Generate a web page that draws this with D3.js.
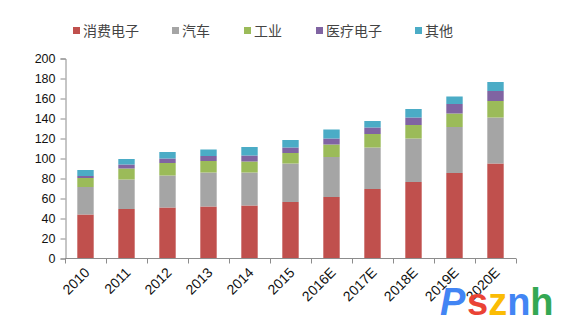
<!DOCTYPE html>
<html><head><meta charset="utf-8">
<script src="https://cdn.jsdelivr.net/npm/d3@7"></script>
<style>body{margin:0;background:#fff;}svg{display:block;}</style>
</head><body>
<svg id="c" width="569" height="330"></svg>
<script>
const categories = ["2010","2011","2012","2013","2014","2015","2016E","2017E","2018E","2019E","2020E"];
const seriesNames = ["消费电子","汽车","工业","医疗电子","其他"];
const consumer = [44, 49.5, 51, 52, 53, 56.5, 61.5, 69.5, 76.5, 85.5, 95];
const auto     = [27.5, 29.5, 32, 34, 33, 38.5, 40, 41.5, 43.5, 46, 46];
const industry = [9, 11, 12.5, 11.5, 11, 10.5, 12.5, 13.5, 13.5, 13.5, 16.5];
const medical  = [2, 4, 4.5, 5, 6, 5.5, 6, 6.5, 7.5, 9.5, 10];
const other    = [6, 5.5, 6.5, 6.5, 8.5, 7.5, 9, 6.5, 8.5, 7.5, 9];
const yTicks = [0,20,40,60,80,100,120,140,160,180,200];
const colors = ["#C0504D","#A5A5A5","#9BBB59","#8064A2","#4BACC6"];

const svg = d3.select("#c");
const rows = categories.map((c,i)=>({cat:c, s0:consumer[i], s1:auto[i], s2:industry[i], s3:medical[i], s4:other[i]}));
const keys = ["s0","s1","s2","s3","s4"];
const stack = d3.stack().keys(keys)(rows);

const x = d3.scaleBand().domain(categories).range([65,516]).paddingInner(0.6).paddingOuter(0.3);
const y = d3.scaleLinear().domain([0,200]).range([258.5,58.5]);
const axisColor = "#8c8c8c";

// bars
svg.append("g").selectAll("g").data(stack).join("g")
  .attr("fill",(d,i)=>colors[i])
  .selectAll("rect").data(d=>d).join("rect")
  .attr("x",d=>x(d.data.cat))
  .attr("width",x.bandwidth())
  .attr("y",d=>y(d[1]))
  .attr("height",d=>y(d[0])-y(d[1]));

// y axis
const ya = svg.append("g").attr("transform","translate(65.5,0)")
  .call(d3.axisLeft(y).tickValues(yTicks).tickSize(5).tickPadding(5));
ya.select(".domain").attr("stroke",axisColor);
ya.selectAll(".tick line").attr("stroke",axisColor);
ya.selectAll("text").attr("font-family","'Liberation Sans',Arial,sans-serif").attr("font-size",12.5).attr("fill","#111");

// x axis
const xa = svg.append("g").attr("transform","translate(0,258.5)");
xa.append("line").attr("x1",65).attr("x2",516).attr("stroke",axisColor);
const bounds = categories.map(c=>x(c)-x.step()*x.paddingInner()/2).concat([516]);
xa.selectAll("line.t").data(bounds).join("line").attr("class","t")
  .attr("x1",d=>Math.round(d)+0.5).attr("x2",d=>Math.round(d)+0.5).attr("y1",0).attr("y2",5).attr("stroke",axisColor);
xa.selectAll("text").data(categories).join("text")
  .attr("transform",d=>`translate(${x(d)+x.bandwidth()/2+5},${15}) rotate(-45)`)
  .attr("text-anchor","end")
  .attr("font-family","'Liberation Sans',Arial,sans-serif").attr("font-size",14).attr("fill","#111")
  .text(d=>d);

// legend
const legX = [73,172,244,316,415];
const lg = svg.append("g");
seriesNames.forEach((n,i)=>{
  lg.append("rect").attr("x",legX[i]).attr("y",27).attr("width",7).attr("height",7).attr("fill",colors[i]);
  lg.append("text").attr("x",legX[i]+10).attr("y",36).attr("font-family","'Noto Sans CJK SC',sans-serif")
    .attr("font-size",14).attr("fill","#444").text(n);
});

// watermark
const wm = svg.append("text").attr("x",440).attr("y",315).attr("font-family","'Liberation Sans',Arial,sans-serif").attr("font-weight","bold").attr("font-size",38);
wm.append("tspan").attr("fill","#4285F4").attr("font-style","italic").text("P");
wm.append("tspan").attr("fill","#EA4335").attr("x",467).text("s");
wm.append("tspan").attr("fill","#FBBC05").text("z");
wm.append("tspan").attr("fill","#4285F4").text("n");
wm.append("tspan").attr("fill","#34A853").text("h");
</script>
</body></html>
